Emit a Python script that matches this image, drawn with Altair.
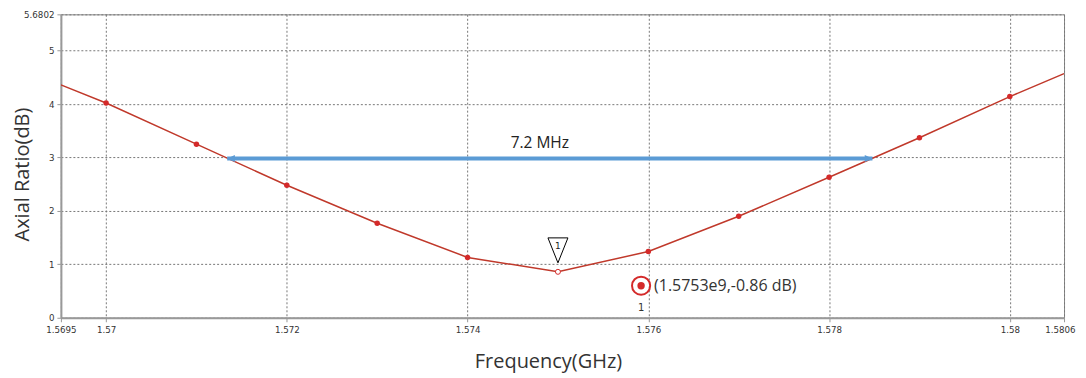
import altair as alt
import pandas as pd

# ---- data ----
freq = [1.5695, 1.570, 1.571, 1.572, 1.573, 1.574, 1.575, 1.576, 1.577, 1.578, 1.579, 1.580, 1.5806]
axial = [4.36, 4.02, 3.25, 2.48, 1.77, 1.13, 0.86, 1.24, 1.90, 2.63, 3.37, 4.14, 4.57]
dot_freq = [1.570, 1.571, 1.572, 1.573, 1.574, 1.576, 1.577, 1.578, 1.579, 1.580]
dot_axial = [4.02, 3.25, 2.48, 1.77, 1.13, 1.24, 1.90, 2.63, 3.37, 4.14]
marker_freq = [1.575]
marker_axial = [0.86]
x_ticks = [1.5695, 1.57, 1.572, 1.574, 1.576, 1.578, 1.58, 1.5806]
y_ticks = [0, 1, 2, 3, 4, 5, 5.6802]
bw_start, bw_end, bw_level = 1.57134, 1.57848, 2.98
bw_label = "7.2 MHz"
legend_freq, legend_axial = 1.57592, 0.60
legend_text = "(1.5753e9,-0.86 dB)"

X0, X1 = 1.5695, 1.5806
Y0, Y1 = 0, 5.6802

xs = alt.Scale(domain=[X0, X1], nice=False, zero=False)
ys = alt.Scale(domain=[Y0, Y1], nice=False, zero=False)

curve = pd.DataFrame({"f": freq, "ar": axial})
dots = pd.DataFrame({"f": dot_freq, "ar": dot_axial})
mk = pd.DataFrame({"f": marker_freq, "ar": marker_axial})
arrow = pd.DataFrame({"f": [bw_start], "f2": [bw_end], "ar": [bw_level]})
ends = pd.DataFrame({"f": [bw_start, bw_end], "ar": [bw_level, bw_level], "side": ["l", "r"]})
lab = pd.DataFrame({"f": [(bw_start + bw_end) / 2], "ar": [bw_level], "t": [bw_label]})
leg = pd.DataFrame({"f": [legend_freq], "ar": [legend_axial], "t": [legend_text], "n": ["1"]})

RED = "#d42a2a"
LINE = "#c0392b"
BLUE = "#5b9bd5"

X = alt.X("f:Q", scale=xs, axis=alt.Axis(
    values=x_ticks, format=".5~f", title="Frequency(GHz)",
    grid=True, gridDash=[2, 2], gridColor="#777", gridWidth=1,
    domainColor="#999", domainWidth=2, tickColor="#999", tickSize=4,
    labelFont="DejaVu Sans", labelFontSize=8.7, labelColor="#333", labelPadding=4,
    labelAlign={"condition": {"test": "datum.value > 1.5805", "value": "right"}, "value": "center"},
    labelOffset={"condition": {"test": "datum.value > 1.5805", "value": 11}, "value": 0},
    titleFont="Open Sans", titleFontSize=20, titleFontWeight="normal", titleColor="#333",
    titleX=488, titleY=34, labelFlush=False))
Y = alt.Y("ar:Q", scale=ys, axis=alt.Axis(
    values=y_ticks, format=".4~f", title="Axial Ratio(dB)",
    grid=True, gridDash=[2, 2], gridColor="#777", gridWidth=1,
    domainColor="#999", domainWidth=2, tickColor="#999", tickSize=4,
    labelFont="DejaVu Sans", labelFontSize=8.7, labelColor="#333", labelPadding=3,
    titleFont="Open Sans", titleFontSize=20, titleFontWeight="normal", titleColor="#333",
    titleX=-28, titleY=160, labelFlush=False))

base_line = alt.Chart(curve).mark_line(color=LINE, strokeWidth=1.5, clip=True).encode(x=X, y=Y)
dot_layer = alt.Chart(dots).mark_point(filled=True, color=RED, size=30, opacity=1).encode(x="f:Q", y="ar:Q")
mk_layer = alt.Chart(mk).mark_point(filled=True, fill="white", stroke=RED, strokeWidth=1, size=25, opacity=1).encode(x="f:Q", y="ar:Q")
tri = alt.Chart(mk).mark_point(shape="M-1,-3.4L1,-3.4L0,-0.9Z", size=400, filled=True, fill="white",
                               stroke="black", strokeWidth=1, opacity=1).encode(x="f:Q", y="ar:Q")
tri_txt = alt.Chart(mk).mark_text(text="1", fontSize=9, font="DejaVu Sans", dy=-26, color="#222").encode(x="f:Q", y="ar:Q")

arrow_line = alt.Chart(arrow).mark_rule(color=BLUE, strokeWidth=4).encode(x="f:Q", x2="f2:Q", y="ar:Q")
left_head = alt.Chart(ends[ends.side == "l"]).mark_point(
    shape="M0,0L2.2,-1L2.2,1Z", size=49, filled=True, color=BLUE, opacity=1).encode(x="f:Q", y="ar:Q")
right_head = alt.Chart(ends[ends.side == "r"]).mark_point(
    shape="M0,0L-2.2,-1L-2.2,1Z", size=49, filled=True, color=BLUE, opacity=1).encode(x="f:Q", y="ar:Q")
arrow_txt = alt.Chart(lab).mark_text(font="Open Sans", fontSize=15.5, color="#222", dy=-16, dx=-10).encode(
    x="f:Q", y="ar:Q", text="t:N")

leg_ring = alt.Chart(leg).mark_point(shape="circle", size=330, filled=False, stroke=RED, strokeWidth=2,
                                     opacity=1).encode(x="f:Q", y="ar:Q")
leg_dot = alt.Chart(leg).mark_point(shape="circle", size=55, filled=True, color=RED, opacity=1).encode(
    x="f:Q", y="ar:Q")
leg_txt = alt.Chart(leg).mark_text(align="left", font="Open Sans", fontSize=16, color="#333", dx=13).encode(
    x="f:Q", y="ar:Q", text="t:N")
leg_n = alt.Chart(leg).mark_text(font="DejaVu Sans", fontSize=10, color="#333", dy=22).encode(
    x="f:Q", y="ar:Q", text="n:N")

chart = alt.layer(
    base_line, dot_layer, mk_layer, arrow_line, left_head, right_head, arrow_txt,
    tri, tri_txt, leg_ring, leg_dot, leg_txt, leg_n
).properties(
    width=1005, height=304,
    autosize=alt.AutoSizeParams(type="none"),
    padding={"left": 53, "top": 6, "right": 14, "bottom": 56},
    background="white",
).configure_view(stroke="#888", strokeWidth=1)

chart.save("out.html", embed_options={"renderer": "svg", "actions": False})
